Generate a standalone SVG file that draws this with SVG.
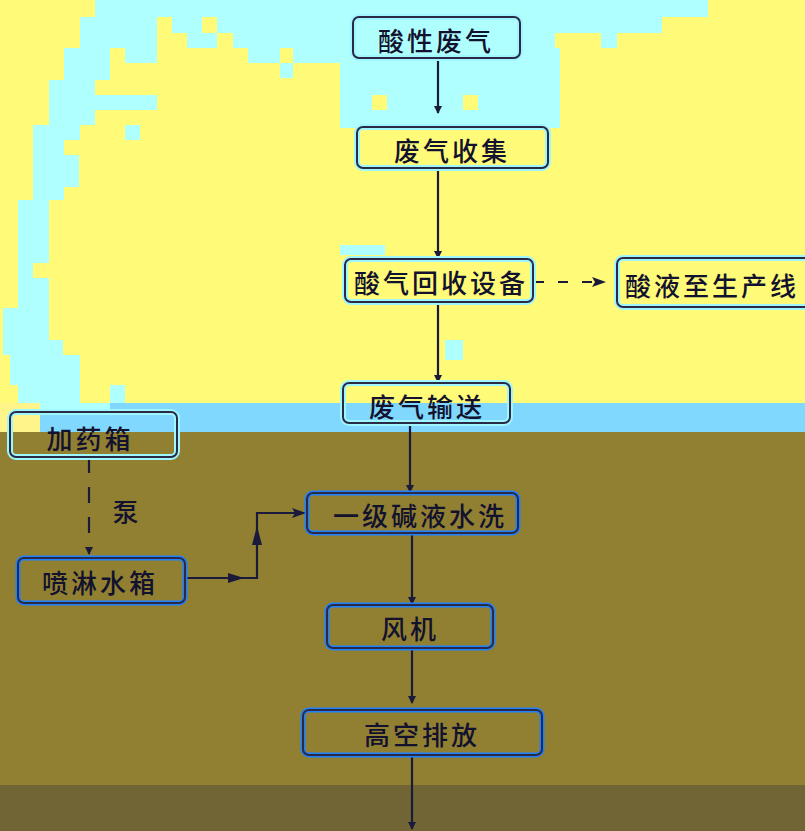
<svg xmlns="http://www.w3.org/2000/svg" width="805" height="831" viewBox="0 0 805 831">
<style>
.bg-y{fill:#FFFA78}
.cy{fill:#B0FFFF}
.box{fill:none;stroke:#2a2a44;stroke-width:2}
.haloY{fill:none;stroke:#9ff6ff;stroke-width:6}
.haloB{fill:none;stroke:#1e80ff;stroke-width:5}
.lbl{font-family:"Noto Sans CJK SC","Noto Sans CJK TC",sans-serif;font-size:26px;font-weight:500;fill:#12122e;text-anchor:middle;dominant-baseline:central;letter-spacing:3px}
.ln{fill:none;stroke:#1a1a3a;stroke-width:2.2}
</style>
<defs>
<marker id="arr" markerWidth="8" markerHeight="8" refX="7" refY="4" orient="auto" markerUnits="userSpaceOnUse">
<path d="M0,0 L8,4 L0,8 Z" fill="#1a1a3a"/>
</marker>
<marker id="arrL" markerWidth="14" markerHeight="10" refX="13" refY="5" orient="auto" markerUnits="userSpaceOnUse">
<path d="M0,0 L14,5 L0,10 L3,5 Z" fill="#1a1a3a"/>
</marker>
</defs>
<g id="background">
<rect x="0" y="0" width="805" height="403" class="bg-y"/>
<!-- cyan noise band top-left -->
<rect class="cy" x="95" y="0" width="613" height="17"/>
<rect class="cy" x="80" y="17" width="77" height="16"/>
<rect class="cy" x="172" y="17" width="30" height="16"/>
<rect class="cy" x="217" y="17" width="445" height="16"/>
<rect class="cy" x="80" y="33" width="77" height="15"/>
<rect class="cy" x="187" y="33" width="30" height="15"/>
<rect class="cy" x="233" y="33" width="322" height="15"/>
<rect class="cy" x="601" y="33" width="16" height="15"/>
<rect class="cy" x="64" y="48" width="46" height="32"/>
<rect class="cy" x="125" y="48" width="32" height="15"/>
<rect class="cy" x="248" y="48" width="32" height="15"/>
<rect class="cy" x="293" y="48" width="62" height="15"/>
<rect class="cy" x="280" y="63" width="13" height="15"/>
<rect class="cy" x="340" y="48" width="220" height="80"/>
<rect class="bg-y" x="372" y="95" width="15" height="15"/>
<rect class="bg-y" x="463" y="95" width="15" height="15"/>
<rect class="cy" x="49" y="80" width="46" height="15"/>
<rect class="cy" x="49" y="95" width="108" height="15"/>
<rect class="cy" x="49" y="110" width="46" height="15"/>
<rect class="cy" x="125" y="125" width="15" height="15"/>
<rect class="cy" x="33" y="125" width="47" height="15"/>
<rect class="cy" x="33" y="140" width="31" height="15"/>
<rect class="cy" x="33" y="155" width="46" height="32"/>
<rect class="cy" x="33" y="187" width="31" height="13"/>
<rect class="cy" x="18" y="200" width="31" height="63"/>
<rect class="cy" x="18" y="263" width="15" height="15"/>
<rect class="cy" x="18" y="278" width="31" height="30"/>
<rect class="cy" x="3" y="308" width="46" height="32"/>
<rect class="cy" x="3" y="340" width="60" height="15"/>
<rect class="cy" x="10" y="355" width="70" height="30"/>
<rect class="cy" x="18" y="385" width="62" height="18"/>
<rect class="cy" x="110" y="385" width="15" height="18"/>
<rect class="cy" x="340" y="245" width="45" height="10"/>
<rect class="cy" x="445" y="340" width="18" height="20"/>
<!-- light blue band -->
<rect x="0" y="403" width="805" height="29" fill="#80D8FF"/>
<rect x="0" y="403" width="40" height="29" fill="#FFF48A"/>
<rect x="40" y="403" width="70" height="12" fill="#B0FFFF"/>
<!-- olive -->
<rect x="0" y="432" width="805" height="353" fill="#918032"/>
<rect x="0" y="785" width="805" height="46" fill="#726535"/>
</g>
<g id="connectors">
<line class="ln" x1="438" y1="58" x2="438" y2="113" marker-end="url(#arr)"/>
<line class="ln" x1="438" y1="168" x2="438" y2="258" marker-end="url(#arr)"/>
<line class="ln" x1="438" y1="302" x2="438" y2="382" marker-end="url(#arr)"/>
<line class="ln" x1="534" y1="282" x2="605" y2="282" stroke-dasharray="10 14" marker-end="url(#arrL)"/>
<line class="ln" x1="410" y1="423" x2="410" y2="492" marker-end="url(#arr)"/>
<line class="ln" x1="412" y1="533" x2="412" y2="604" marker-end="url(#arr)"/>
<line class="ln" x1="412" y1="648" x2="412" y2="703" marker-end="url(#arr)"/>
<line class="ln" x1="412" y1="755" x2="412" y2="829" marker-end="url(#arr)"/>
<line class="ln" x1="89" y1="457" x2="89" y2="554" stroke-dasharray="16 14" marker-end="url(#arr)"/>
<path class="ln" d="M185,578 H257 V513 H305" marker-end="url(#arrL)"/>
<path d="M228,573 L244,578 L228,583 Z" fill="#1a1a3a"/>
<path d="M252,545 L257,526 L262,545 Z" fill="#1a1a3a"/>
<text class="lbl" x="127" y="510">泵</text>
</g>
<g id="n1">
<rect class="haloY" x="353" y="17" width="167" height="41" rx="6"/>
<rect class="box" x="353" y="17" width="167" height="41" rx="6"/>
<text class="lbl" x="436" y="39">酸性废气</text>
</g>
<g id="n2">
<rect class="haloY" x="357" y="127" width="191" height="41" rx="6"/>
<rect class="box" x="357" y="127" width="191" height="41" rx="6"/>
<text class="lbl" x="452" y="149">废气收集</text>
</g>
<g id="n3">
<rect class="haloY" x="345" y="259" width="188" height="43" rx="6"/>
<rect class="box" x="345" y="259" width="188" height="43" rx="6"/>
<text class="lbl" x="441" y="281">酸气回收设备</text>
</g>
<g id="n4">
<rect class="haloY" x="617" y="258" width="200" height="49" rx="6"/>
<rect class="box" x="617" y="258" width="200" height="49" rx="6"/>
<text class="lbl" x="712" y="284">酸液至生产线</text>
</g>
<g id="n5">
<rect class="haloY" x="343" y="383" width="167" height="40" rx="6"/>
<rect class="box" x="343" y="383" width="167" height="40" rx="6"/>
<text class="lbl" x="427" y="405">废气输送</text>
</g>
<g id="n6">
<rect class="haloY" x="10" y="412" width="167" height="45" rx="6"/>
<rect class="box" x="10" y="412" width="167" height="45" rx="6"/>
<text class="lbl" x="90" y="437">加药箱</text>
</g>
<g id="n7">
<rect class="haloB" x="18" y="558" width="167" height="45" rx="6"/>
<rect class="box" x="18" y="558" width="167" height="45" rx="6"/>
<text class="lbl" x="100" y="581">喷淋水箱</text>
</g>
<g id="n8">
<rect class="haloB" x="307" y="493" width="211" height="40" rx="6"/>
<rect class="box" x="307" y="493" width="211" height="40" rx="6"/>
<text class="lbl" x="420" y="514">一级碱液水洗</text>
</g>
<g id="n9">
<rect class="haloB" x="327" y="605" width="166" height="43" rx="6"/>
<rect class="box" x="327" y="605" width="166" height="43" rx="6"/>
<text class="lbl" x="410" y="627">风机</text>
</g>
<g id="n10">
<rect class="haloB" x="303" y="710" width="239" height="45" rx="6"/>
<rect class="box" x="303" y="710" width="239" height="45" rx="6"/>
<text class="lbl" x="422" y="733">高空排放</text>
</g>
</svg>
